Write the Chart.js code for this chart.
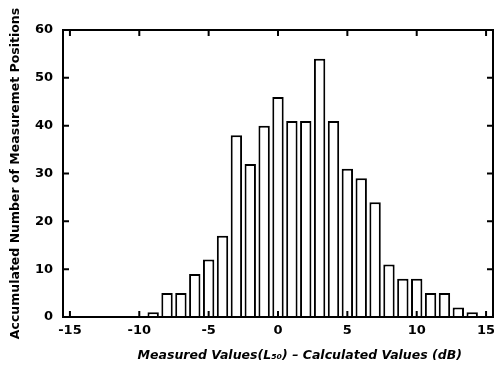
<!DOCTYPE html>
<html>
<head>
<meta charset="utf-8">
<script src="https://cdn.jsdelivr.net/npm/chart.js@4"></script>
<style>
  html, body { margin: 0; padding: 0; background: #fff; }
  canvas { display: block; }
</style>
</head>
<body>
<canvas id="chartHist" width="494" height="367"></canvas>
<script>
// deviation bins (dB) and counts
const bins   = [-9, -8, -7, -6, -5, -4, -3, -2, -1, 0, 1, 2, 3, 4, 5, 6, 7, 8, 9, 10, 11, 12, 13, 14]
const counts = [ 1,  5,  5,  9, 12, 17, 38, 32, 40, 46, 41, 41, 54, 41, 31, 29, 24, 11, 8, 8, 5, 5, 2, 1]
const xTicks = [-15, -10, -5, 0, 5, 10, 15]
const yTicks = [0, 10, 20, 30, 40, 50, 60]

const FONT = "'DejaVu Sans', sans-serif"

// frame + inward tick marks on all four sides
const frameTicks = {
  id: 'frameTicks',
  afterDraw(chart) {
    const { ctx, chartArea: a, scales: { x, y } } = chart
    const len = 6
    ctx.save()
    ctx.strokeStyle = '#000'
    ctx.lineWidth = 2
    ctx.strokeRect(a.left, a.top, a.right - a.left, a.bottom - a.top)
    ctx.beginPath()
    xTicks.forEach(v => {
      const px = x.getPixelForValue(v)
      ctx.moveTo(px, a.bottom); ctx.lineTo(px, a.bottom - len)
      ctx.moveTo(px, a.top);    ctx.lineTo(px, a.top + len)
    })
    yTicks.forEach(v => {
      const py = y.getPixelForValue(v)
      ctx.moveTo(a.left, py);  ctx.lineTo(a.left + len, py)
      ctx.moveTo(a.right, py); ctx.lineTo(a.right - len, py)
    })
    ctx.stroke()
    ctx.restore()
  }
}

new Chart(document.getElementById('chartHist'), {
  type: 'bar',
  data: {
    datasets: [{
      data: bins.map((b, i) => ({ x: b, y: counts[i] })),
      backgroundColor: '#fff',
      borderColor: '#000',
      borderWidth: 2,
      barPercentage: 0.82,
      categoryPercentage: 1,
    }]
  },
  options: {
    responsive: false,
    animation: false,
    layout: { padding: { top: 30, right: 1, left: 0, bottom: 0 } },
    plugins: { legend: { display: false }, tooltip: { enabled: false } },
    scales: {
      x: {
        type: 'linear', offset: false, min: -15.5, max: 15.5,
        afterBuildTicks: s => { s.ticks = xTicks.map(v => ({ value: v })) },
        afterFit: s => { s.height = 50; s.paddingLeft = 0; s.paddingRight = 0 },
        grid: { display: false, drawTicks: false },
        border: { display: false },
        ticks: { color: '#000', padding: 6, maxRotation: 0, autoSkip: false,
                 font: { family: FONT, size: 13, weight: 'bold' } },
        // leading spaces push the title right, as in the original figure
        title: { display: true, text: '          Measured Values(L₅₀) – Calculated Values (dB)',
                 color: '#000', padding: { top: 0, bottom: 4 },
                 font: { family: FONT, size: 12.5, weight: 'bold', style: 'italic' } }
      },
      y: {
        min: 0, max: 60,
        afterBuildTicks: s => { s.ticks = yTicks.map(v => ({ value: v })) },
        afterFit: s => { s.width = 63 },
        grid: { display: false, drawTicks: false },
        border: { display: false },
        ticks: { color: '#000', padding: 10,
                 font: { family: FONT, size: 13, weight: 'bold' } },
        title: { display: true, text: 'Accumulated Number of Measuremet Positions',
                 color: '#000', padding: { top: 8, bottom: 0 },
                 font: { family: FONT, size: 12.5, weight: 'bold' } }
      }
    }
  },
  plugins: [frameTicks]
})
</script>
</body>
</html>
